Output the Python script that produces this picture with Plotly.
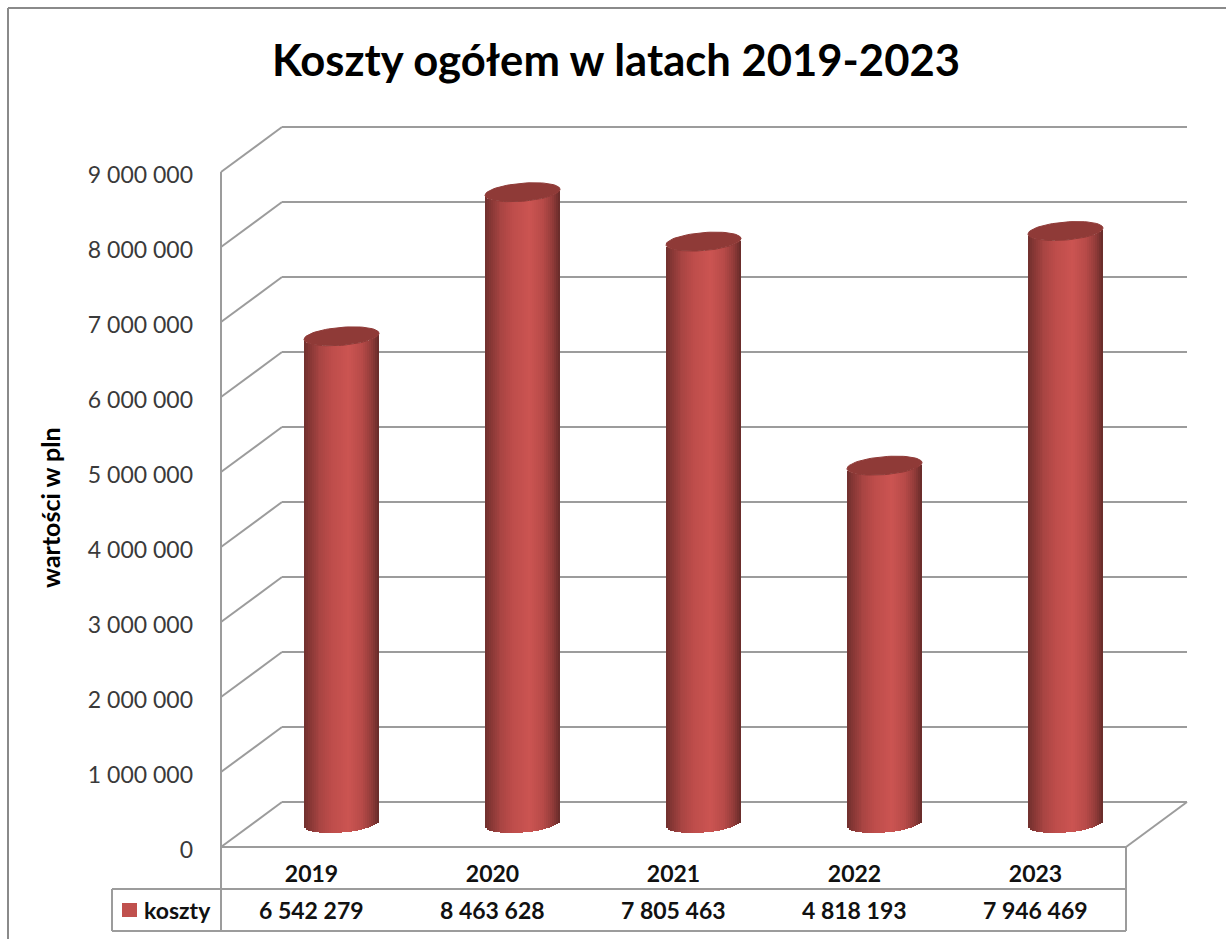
import numpy as np
import plotly.graph_objects as go

# ---- data ----
years = ["2019", "2020", "2021", "2022", "2023"]
costs = [6542279, 8463628, 7805463, 4818193, 7946469]
series_name = "koszty"
y_ticks = [0, 1000000, 2000000, 3000000, 4000000, 5000000, 6000000, 7000000, 8000000, 9000000]
title_text = "Koszty ogółem w latach 2019-2023"
y_title = "wartości w pln"

# ---- geometry (page pixels) ----
W, H = 1226, 939
L, R, T, B = 212, 1195, 118, 856      # plot area
X0_PX, ZERO_PX = 221, 847             # position of the front axis corner
CAT_PX, VAL_PX = 181, 75              # px per category, px per 1 000 000
xu = 1 / CAT_PX
yu = 1e6 / VAL_PX
DX, DY = 61 * xu, 45 * yu             # depth of the floor
x_range = [-0.5 - (X0_PX - L) * xu, -0.5 + (R - X0_PX) * xu]
y_range = [-(B - ZERO_PX) * yu, (ZERO_PX - T) * yu]
def px(x): return (x - L) / (R - L)
def py(y): return (B - y) / (B - T)

GRID = "#9C9C9C"
FRAME = "#8A8A8A"
FONT = "Lato"

def line(x0, y0, x1, y1, color=GRID, width=2):
    return dict(type="line", xref="x", yref="y", x0=x0, y0=y0, x1=x1, y1=y1,
                layer="below", line=dict(color=color, width=width))

def pline(x0, y0, x1, y1, color=GRID, width=2):
    return dict(type="line", xref="paper", yref="paper", x0=px(x0), y0=py(y0), x1=px(x1), y1=py(y1),
                layer="below", line=dict(color=color, width=width))

shapes = []
x_left = -0.5
x_right = len(years) - 0.5
for v in y_ticks:
    shapes.append(line(x_left, v, x_left + DX, v + DY))
    shapes.append(line(x_left + DX, v + DY, x_right + DX, v + DY))
shapes.append(line(x_left, 0, x_left, y_ticks[-1]))
shapes.append(line(x_left, 0, x_right, 0))
shapes.append(line(x_right, 0, x_right + DX, DY))

# data table under the plot
shapes += [
    pline(221, 847, 221, 931),
    pline(1126, 847, 1126, 931),
    pline(112, 889, 1126, 889),
    pline(112, 931, 1126, 931),
    pline(112, 889, 112, 931),
    # outer chart frame
    pline(8, 8, 8, 939, FRAME, 2),
    pline(8, 8, 1226, 8, FRAME, 2),
    # legend key
    dict(type="rect", xref="paper", yref="paper", x0=px(122), x1=px(137), y0=py(917), y1=py(903),
         fillcolor="#C0504D", line=dict(width=0), layer="above"),
]

# ---- cylinders ----
N = 38
RX, RY, SK = 37.5 * xu, 9 * yu, 3 * yu
CX_OFF, TOP_OFF, BOT_OFF = 30 * xu, 20 * yu, 23.5 * yu
u = (np.arange(N) + 0.5) / N * 2 - 1
stops_u = [-1, -0.85, -0.6, -0.25, 0.2, 0.55, 0.8, 1]
stops_r = [0x70, 0x86, 0xA6, 0xBE, 0xCC, 0xB8, 0x93, 0x66]
stops_g = [0x30, 0x37, 0x44, 0x4D, 0x55, 0x4B, 0x3C, 0x2B]
stops_b = [0x2E, 0x35, 0x42, 0x4B, 0x52, 0x49, 0x3A, 0x29]
r = np.interp(u, stops_u, stops_r)
g = np.interp(u, stops_u, stops_g)
b = np.interp(u, stops_u, stops_b)
strip_colors = [f"rgb({int(a)},{int(c)},{int(d)})" for a, c, d in zip(r, g, b)]
arc = -RY * np.sqrt(1 - u ** 2) + SK * u

fig = go.Figure()
for i, v in enumerate(costs):
    fig.add_trace(go.Bar(
        x=i + CX_OFF + u * RX, y=[v + TOP_OFF - BOT_OFF] * N, base=BOT_OFF + arc,
        width=[2.6 * RX / N] * N,
        marker=dict(color=strip_colors, line=dict(width=0)),
        showlegend=False, name=years[i], hoverinfo="skip",
    ))
t = np.linspace(0, 2 * np.pi, 73)
for i, v in enumerate(costs):
    fig.add_trace(go.Scatter(
        x=i + CX_OFF + RX * np.cos(t), y=v + TOP_OFF + RY * np.sin(t) + SK * np.cos(t),
        mode="lines", fill="toself", fillcolor="#8F3A37", line=dict(color="#8F3A37", width=1),
        showlegend=False, hoverinfo="skip",
    ))

# table values, legend label, y title
annotations = [
    dict(x=i, y=py(910), xref="x", yref="paper", text=f"{v:,}".replace(",", " "), showarrow=False,
         font=dict(family=FONT, size=23, color="#111111", weight=700), xanchor="center", yanchor="middle")
    for i, v in enumerate(costs)
]
annotations.append(dict(x=px(144), y=py(910), xref="paper", yref="paper", text=series_name, showarrow=False,
                        xshift=-2, font=dict(family=FONT, size=23, color="#111111", weight=700),
                        xanchor="left", yanchor="middle"))
annotations.append(dict(x=px(50), y=py(508), xref="paper", yref="paper", text=y_title, textangle=-90,
                        showarrow=False, font=dict(family=FONT, size=25, color="#000000", weight=700),
                        xanchor="center", yanchor="middle"))

fig.update_layout(
    width=W, height=H, autosize=False, showlegend=False,
    margin=dict(l=L, r=W - R, t=T, b=H - B, pad=0),
    paper_bgcolor="white", plot_bgcolor="white",
    barmode="overlay", bargap=0,
    separators=", ",
    title=dict(text=title_text, x=616 / W, xanchor="center", y=1 - 61 / H, yanchor="middle",
               font=dict(family=FONT, size=43.6, color="#000000", weight=700)),
    xaxis=dict(range=x_range, tickmode="array", tickvals=list(range(len(years))), ticktext=years,
               automargin=False, showgrid=False, zeroline=False, showline=False, ticks="", ticklabelstandoff=2,
               tickfont=dict(family=FONT, size=23, color="#111111", weight=700)),
    yaxis=dict(range=y_range, tickmode="array", tickvals=y_ticks, tickformat=",d",
               automargin=False, showgrid=False, zeroline=False, showline=False, ticks="", ticklabelstandoff=18,
               ticklabelshift=3,
               tickfont=dict(family=FONT, size=23, color="#3A3A3A")),
    shapes=shapes, annotations=annotations,
)

fig.write_html("out.html", config={"displayModeBar": False},
               post_script="document.body.style.margin='0';document.body.style.overflow='hidden';")
